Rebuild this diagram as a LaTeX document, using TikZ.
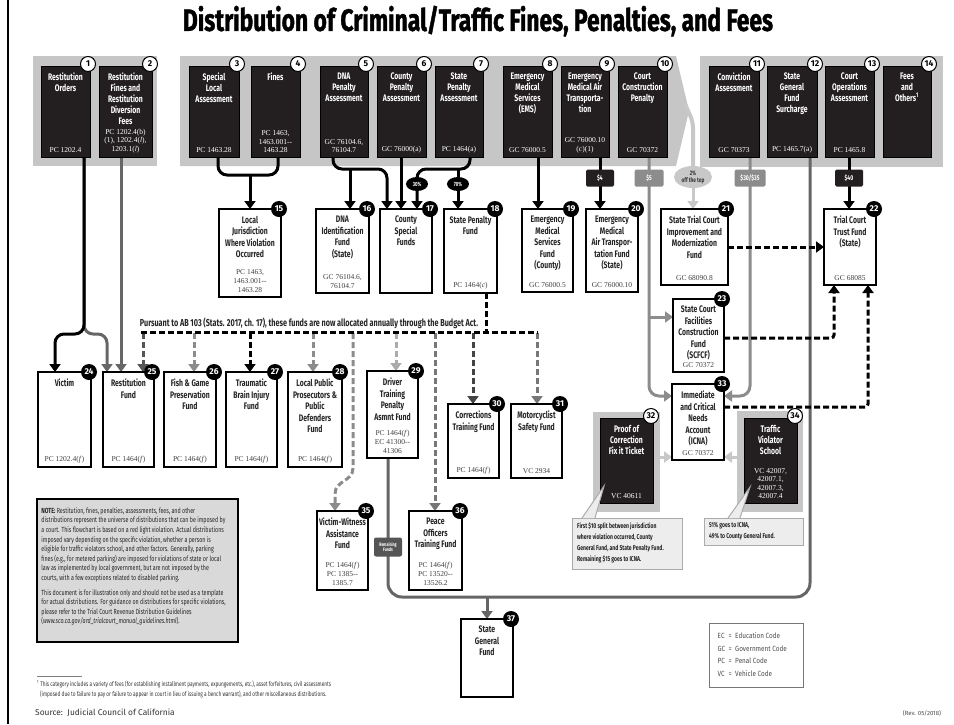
\documentclass[tikz,border=0pt]{standalone}
\usepackage{fontspec}
\usepackage{graphicx}
\setmainfont{Fira Sans}
\newfontfamily\cf[FakeStretch=0.72]{Fira Sans}
\newfontfamily\lf[FakeStretch=0.85]{Fira Sans}
\newfontfamily\ctf{Liberation Serif}
\newfontfamily\ttlfont[FakeStretch=0.74,FakeBold=1.2]{Fira Sans}
\usetikzlibrary{arrows.meta,shapes.geometric,calc}
\pgfdeclarelayer{back}\pgfdeclarelayer{lines}\pgfsetlayers{back,lines,main}
\definecolor{bx}{HTML}{231F20}
\definecolor{pg}{HTML}{C6C6C6}
\definecolor{gA}{HTML}{ABABAB}
\definecolor{g8}{HTML}{8C8C8C}
\definecolor{g7}{HTML}{777777}
\definecolor{g6}{HTML}{666666}
\definecolor{g5}{HTML}{555555}
\definecolor{g4}{HTML}{444444}
\definecolor{g2}{HTML}{C8C8C8}
\definecolor{callfill}{HTML}{EDEDED}
\definecolor{notefill}{HTML}{D9D9D9}
\tikzset{
 bk/.style={draw=black, fill=bx, line width=0.6pt, inner sep=0pt, outer sep=0pt},
 wb/.style={draw=black, fill=white, line width=1.8pt, inner sep=0pt, outer sep=0pt},
 btitle/.style={anchor=north, align=center, text=white, inner sep=0pt, font=\cf\bfseries\fontsize{9.5}{11}\selectfont},
 wtitle/.style={anchor=north, align=center, text=black!85, inner sep=0pt, font=\cf\bfseries\fontsize{9.5}{11.5}\selectfont},
 bcite/.style={anchor=south, align=center, text=white, inner sep=0pt, font=\ctf\fontsize{7.5}{8.5}\selectfont},
 wcite/.style={anchor=south, align=center, text=black!75, inner sep=0pt, font=\ctf\fontsize{7.5}{9}\selectfont},
 numw/.style={circle, draw=black, fill=white, line width=1pt, inner sep=0pt, minimum size=15pt, font=\bfseries\fontsize{8.5}{8.5}\selectfont},
 numb/.style={circle, fill=black, text=white, inner sep=0pt, minimum size=16pt, font=\bfseries\fontsize{8.5}{8.5}\selectfont},
 ln/.style={line width=3pt},
 dln/.style={line width=3pt, dash pattern=on 6pt off 3pt},
 panel/.style={fill=pg, inner sep=0pt, outer sep=0pt},
 tag/.style={rounded corners=1.5pt, inner sep=0pt, minimum width=28pt, minimum height=17pt, text=white, font=\cf\bfseries\fontsize{7}{7}\selectfont},
 pct/.style={ellipse, fill=black, text=white, inner sep=0pt, minimum width=22pt, minimum height=14pt, font=\cf\bfseries\fontsize{6}{6}\selectfont},
 callout/.style={draw=gA, line width=1pt, fill=callfill, inner sep=0pt, outer sep=0pt},
 calltext/.style={anchor=north west, align=left, inner sep=0pt, text=black!85, font=\cf\bfseries\fontsize{7}{11}\selectfont},
}
\newcommand\blkbox[8]{%
  \node[bk, minimum width=#4pt, minimum height=#5pt] (#1) at (#2+#4/2,#3+#5/2) {};
  \node[btitle] (#1t) at ([yshift=-7pt]#1.north) {#6};
  \node[bcite] (#1c) at ([yshift=4pt]#1.south) {#7};
  \node[numw] (#1n) at ([xshift=-2pt,yshift=2pt]#1.north east) {#8};}
\newcommand\whtbox[8]{%
  \node[wb, minimum width=#4pt, minimum height=#5pt] (#1) at (#2+#4/2,#3+#5/2) {};
  \node[wtitle] (#1t) at ([yshift=-7pt]#1.north) {#6};
  \node[wcite] (#1c) at ([yshift=4pt]#1.south) {#7};
  \node[numb] (#1n) at ([xshift=-2pt]#1.north east) {#8};}
\begin{document}
\begin{tikzpicture}[x=1pt,y=-1pt,>={Triangle[width=11pt,length=8pt]}]
\useasboundingbox (0,0) rectangle (954,724);
\begin{pgfonlayer}{back}
\fill[white] (0,0) rectangle (954,724);
\fill[pg] (33,56) rectangle (157,166);
\fill[pg] (180,56) -- (676,56) -- (689,111) -- (676,166) -- (180,166) -- cycle;
\fill[pg] (700,56) rectangle (943,167);
\end{pgfonlayer}
\draw[line width=1.5pt] (8,0) -- (8,724);
\node[inner sep=0pt] (title) at (478,21) {\resizebox{590pt}{!}{\ttlfont\bfseries Distribution of Criminal/Traffic Fines, Penalties, and Fees}};

% source boxes
\blkbox{b1}{41}{66}{49}{91}{Restitution\\Orders}{PC 1202.4}{1}
\blkbox{b2}{99}{66}{53}{91}{Restitution\\Fines and\\Restitution\\Diversion\\Fees}{PC 1202.4(b)\\(1), 1202.4(\textit{l}),\\1203.1(\textit{l})}{2}
\blkbox{b3}{189}{66}{50}{91}{Special\\Local\\Assessment}{PC 1463.28}{3}
\blkbox{b4}{251}{66}{49}{91}{Fines}{PC 1463,\\1463.001--\\1463.28}{4}
\blkbox{b5}{320}{66}{48}{91}{DNA\\Penalty\\Assessment}{GC 76104.6,\\76104.7}{5}
\blkbox{b6}{377}{66}{49}{91}{County\\Penalty\\Assessment}{GC 76000(a)}{6}
\blkbox{b7}{435}{66}{48}{91}{State\\Penalty\\Assessment}{PC 1464(a)}{7}
\blkbox{b8}{503}{66}{49}{91}{Emergency\\Medical\\Services\\(EMS)}{GC 76000.5}{8}
\blkbox{b9}{561}{66}{48}{91}{Emergency\\Medical Air\\Transporta-\\tion}{GC 76000.10\\(c)(1)}{9}
\blkbox{b10}{618}{66}{49}{91}{Court\\Construction\\Penalty}{GC 70372}{10}
\blkbox{b11}{709}{66}{50}{91}{Conviction\\Assessment}{GC 70373}{11}
\blkbox{b12}{767}{66}{50}{91}{State\\General\\Fund\\Surcharge}{PC 1465.7(a)}{12}
\blkbox{b13}{825}{66}{49}{91}{Court\\Operations\\Assessment}{PC 1465.8}{13}
\blkbox{b14}{883}{66}{48}{91}{Fees\\and\\Others\textsuperscript{1}}{}{14}

% second row
\whtbox{b15}{219}{209}{62}{88}{Local\\Jurisdiction\\Where Violation\\Occurred}{PC 1463,\\1463.001--\\1463.28}{15}
\whtbox{b16}{316}{209}{53}{84}{DNA\\Identification\\Fund\\(State)}{GC 76104.6,\\76104.7}{16}
\whtbox{b17}{380}{209}{52}{84}{County\\Special\\Funds}{}{17}
\whtbox{b18}{444}{209}{53}{84}{State Penalty\\Fund}{PC 1464(\textit{c})}{18}
\whtbox{b19}{522}{209}{51}{83}{Emergency\\Medical\\Services\\Fund\\(County)}{GC 76000.5}{19}
\whtbox{b20}{586}{209}{52}{83}{Emergency\\Medical\\Air Transpor-\\tation Fund\\(State)}{GC 76000.10}{20}
\whtbox{b21}{661}{209}{67}{76}{State Trial Court\\Improvement and\\Modernization\\Fund}{GC 68090.8}{21}
\whtbox{b22}{824}{209}{52}{76}{Trial Court\\Trust Fund\\(State)}{GC 68085}{22}
\whtbox{b23}{673}{299}{51}{73}{State Court\\Facilities\\Construction\\Fund\\(SCFCF)}{GC 70372}{23}
\whtbox{b33}{672}{384}{52}{76}{Immediate\\and Critical\\Needs\\Account\\(ICNA)}{GC 70372}{33}

% third row
\whtbox{b24}{38}{372}{53}{95}{Victim}{PC 1202.4(\textit{f})}{24}
\whtbox{b25}{103}{372}{51}{95}{Restitution\\Fund}{PC 1464(\textit{f})}{25}
\whtbox{b26}{164}{372}{52}{95}{Fish \& Game\\Preservation\\Fund}{PC 1464(\textit{f})}{26}
\whtbox{b27}{226}{372}{51}{95}{Traumatic\\Brain Injury\\Fund}{PC 1464(\textit{f})}{27}
\whtbox{b28}{288}{372}{54}{95}{Local Public\\Prosecutors \&\\Public\\Defenders\\Fund}{PC 1464(\textit{f})}{28}
\whtbox{b29}{367}{371}{51}{87}{Driver\\Training\\Penalty\\Asmnt Fund}{PC 1464(\textit{f})\\EC 41300--\\41306}{29}
\whtbox{b30}{448}{404}{51}{74}{Corrections\\Training Fund}{PC 1464(\textit{f})}{30}
\whtbox{b31}{511}{404}{51}{74}{Motorcyclist\\Safety Fund}{VC 2934}{31}
\whtbox{b35}{317}{511}{51}{79}{Victim-Witness\\Assistance\\Fund}{PC 1464(\textit{f})\\PC 1385--\\1385.7}{35}
\whtbox{b36}{409}{511}{53}{79}{Peace\\Officers\\Training Fund}{PC 1464(\textit{f})\\PC 13520--\\13526.2}{36}
\whtbox{b37}{461}{619}{52}{78}{State\\General\\Fund}{}{37}

% proof of correction / traffic school
\node[panel, minimum width=67pt, minimum height=100pt] (p32) at (626.5,462) {};
\node[panel, minimum width=66pt, minimum height=101pt] (p34) at (770,461.5) {};
\blkbox{b32}{600}{418}{53}{85}{Proof of\\Correction\\Fix it Ticket}{VC 40611}{32}
\blkbox{b34}{744}{418}{53}{85}{Traffic\\Violator\\School}{VC 42007,\\42007.1,\\42007.3,\\42007.4}{34}

% tags
\node[tag, fill=bx] (t4) at (600,178) {\$4};
\node[tag, fill=g8, minimum width=29pt] (t5) at (649,178) {\$5};
\node[tag, fill=g8, minimum width=31pt] (t30) at (750,178) {\$30/\$35};
\node[tag, fill=bx] (t40) at (849,178) {\$40};
\node[pct] (p30) at (417,184) {30\%};
\node[pct] (p70) at (458,184) {70\%};
\node[ellipse, fill=g2, inner sep=0pt, minimum width=38pt, minimum height=22pt, align=center, font=\cf\bfseries\fontsize{6.5}{7}\selectfont, text=black!80] (pct2) at (693,177) {2\%\\off the top};
\node[fill=g5, rounded corners=2pt, minimum width=28pt, minimum height=19pt, inner sep=1pt, text=white, align=center, font=\cf\bfseries\fontsize{5}{5.5}\selectfont] (rf) at (388,547) {Remaining\\Funds};

\node[inner sep=0pt, text=black!85] (ab103) at (309,323) {\resizebox{338pt}{!}{\cf\bfseries\fontsize{8}{8}\selectfont Pursuant to AB 103 (Stats. 2017, ch. 17), these funds are now allocated annually through the Budget Act.}};

\begin{pgfonlayer}{lines}
\draw[ln, g6, rounded corners=9pt, ->] (b1.south -| 84,0) -- (84,334) -- (107,334) -- (b25.north -| 107,0);
\draw[ln, rounded corners=9pt, ->] (b1.south -| 84,0) -- (84,334) -- (55,334) -- (b24.north -| 55,0);
\draw[ln, g6, ->] (b2.south -| 121,0) -- (b25.north -| 121,0);
\draw[ln, rounded corners=9pt] (b3.south -| 218,0) -- (218,175) -- (278,175) -- (b4.south -| 278,0);
\draw[ln, ->] (b15.north |- 0,175) -- (b15.north);
\draw[ln, rounded corners=9pt, ->] (b5.south -| 333,0) -- (333,169) -- (387,169) -- (b17.north -| 387,0);
\draw[ln, ->] (350,169) -- (b16.north -| 350,0);
\draw[ln, ->] (b6.south -| 401,0) -- (b17.north -| 401,0);
\draw[ln, rounded corners=9pt, ->] (b7.south -| 470,0) -- (470,169) -- (417,169) -- (b17.north -| 417,0);
\draw[ln, ->] (458,169) -- (b18.north -| 458,0);
\draw[ln, ->] (b8.south -| 538,0) -- (b19.north -| 538,0);
\draw[ln, ->] (b9.south -| 600,0) -- (b20.north -| 600,0);
\draw[ln, ->] (b13.south -| 849,0) -- (b22.north -| 849,0);
\draw[ln, g8, rounded corners=10pt, ->] (b10.south -| 649,0) -- (649,396) -- (b33.west |- 0,396);
\draw[ln, g8, ->] (649,317) -- (b23.west |- 0,317);
\draw[ln, g8, rounded corners=10pt, ->] (b11.south -| 750,0) -- (750,396) -- (b33.east |- 0,396);
\draw[ln, g6, rounded corners=14pt] (b29.south -| 388,0) -- (388,597) -- (810,597) -- (b12.south -| 810,0);
\draw[ln, g6, ->] (487,597) -- (b37.north -| 487,0);
\draw[line width=4pt, g2, rounded corners=6pt] (685,104) -- (693,122) -- (pct2.north);
\draw[ln, g2, ->] (pct2.south) -- (b21.north -| pct2.south);
\draw[ln, g2, ->] (p32.east |- 0,457) -- (b33.west |- 0,457);
\draw[ln, g2, ->] (p34.west |- 0,457) -- (b33.east |- 0,457);
\draw[dln, ->] (b21.east) -- (b22.west |- b21.east);
\draw[dln, rounded corners=3pt, ->] (b23.east |- 0,338) -- (834,338) -- (b22.south -| 834,0);
\draw[dln, rounded corners=3pt, ->] (b33.east |- 0,407) -- (868,407) -- (b22.south -| 868,0);
\draw[dln, g5, ->] (143,333) -- (b25.north -| 143,0);
\draw[dln, g8, ->] (194,333) -- (b26.north -| 194,0);
\draw[dln, ->] (250,333) -- (b27.north -| 250,0);
\draw[dln, g8, ->] (313,333) -- (b28.north -| 313,0);
\draw[dln, g8, ->] (353,333) -- (353,468) .. controls (353,482) and (335,480) .. (335,494) -- (b35.north -| 335,0);
\draw[dln, gA, ->] (396,333) -- (b29.north -| 396,0);
\draw[dln, g7, ->] (435,333) -- (b36.north -| 435,0);
\draw[dln, g4, ->] (473,333) -- (b30.north -| 473,0);
\draw[dln, g7, ->] (537,333) -- (b31.north -| 537,0);
\draw[dln] (b18.south -| 486,0) -- (486,332);
\draw[dln] (141,332) -- (538,332);
\end{pgfonlayer}

% callouts
\node[callout, minimum width=110pt, minimum height=51pt] (c32) at (627,543.5) {};
\fill[callfill] (c32.north -| 582,0) -- (604,486) -- (c32.north -| 595,0) -- cycle;
\draw[gA, line width=1pt] (c32.north -| 582,0) -- (604,486) -- (c32.north -| 595,0);
\node[calltext] (c32t) at ([xshift=5pt,yshift=-4pt]c32.north west) {First \$10 split between jurisdiction\\where violation occurred, County\\General Fund, and State Penalty Fund.\\Remaining \$15 goes to ICNA.};
\node[callout, minimum width=99pt, minimum height=27pt] (c34) at (753.5,531.5) {};
\fill[callfill] (c34.north -| 728,0) -- (750,487) -- (c34.north -| 740,0) -- cycle;
\draw[gA, line width=1pt] (c34.north -| 728,0) -- (750,487) -- (c34.north -| 740,0);
\node[calltext] (c34t) at ([xshift=5pt,yshift=-4pt]c34.north west) {51\% goes to ICNA,\\49\% to County General Fund.};

% note
\node[draw=black, line width=1.5pt, fill=notefill, minimum width=201pt, minimum height=143pt, inner sep=0pt] (note) at (137.5,570.5) {};
\node[anchor=north west, align=left, inner sep=0pt, text=black!85, font=\cf\fontsize{7.4}{9.6}\selectfont] (notet) at ([xshift=5pt,yshift=-9pt]note.north west) {\textbf{NOTE:} Restitution, fines, penalties, assessments, fees, and other\\distributions represent the universe of distributions that can be imposed by\\a court. This flowchart is based on a red light violation. Actual distributions\\imposed vary depending on the specific violation, whether a person is\\eligible for traffic violators school, and other factors. Generally, parking\\fines (e.g., for metered parking) are imposed for violations of state or local\\law as implemented by local government, but are not imposed by the\\courts, with a few exceptions related to disabled parking.\\[5pt]This document is for illustration only and should not be used as a template\\for actual distributions. For guidance on distributions for specific violations,\\please refer to the Trial Court Revenue Distribution Guidelines\\(\textit{www.sco.ca.gov/ard\_trialcourt\_manual\_guidelines.html}).};

% legend
\node[draw=g7, line width=1pt, minimum width=94pt, minimum height=64pt, inner sep=0pt] (legend) at (756,655) {};
\node[anchor=west, inner sep=0pt, text=black!70, font=\lf\fontsize{7.5}{12.5}\selectfont] (legt) at ([xshift=9pt]legend.west) {\begin{tabular}{@{}l@{\ \ }c@{\ \ }l@{}}EC & = & Education Code\\GC & = & Government Code\\PC & = & Penal Code\\VC & = & Vehicle Code\end{tabular}};

% footnote & source
\draw[line width=0.5pt, gray] (37,676) -- (82,676);
\node[anchor=north west, align=left, inner sep=0pt, text=black!80, font=\cf\fontsize{6.6}{10}\selectfont] (fn) at (37,680) {\textsuperscript{1} This category includes a variety of fees (for establishing installment payments, expungements, etc.), asset forfeitures, civil assessments\\\hspace*{3pt}(imposed due to failure to pay or failure to appear in court in lieu of issuing a bench warrant), and other miscellaneous distributions.};
\node[anchor=west, inner sep=0pt, text=black!80, font=\fontsize{8.4}{8.4}\selectfont] (src) at (35,713) {Source:\ \ Judicial Council of California};
\node[inner sep=0pt, text=black!70, font=\fontsize{6}{6}\selectfont] (rev) at (922,713) {(Rev. 05/2018)};
\end{tikzpicture}
\end{document}
